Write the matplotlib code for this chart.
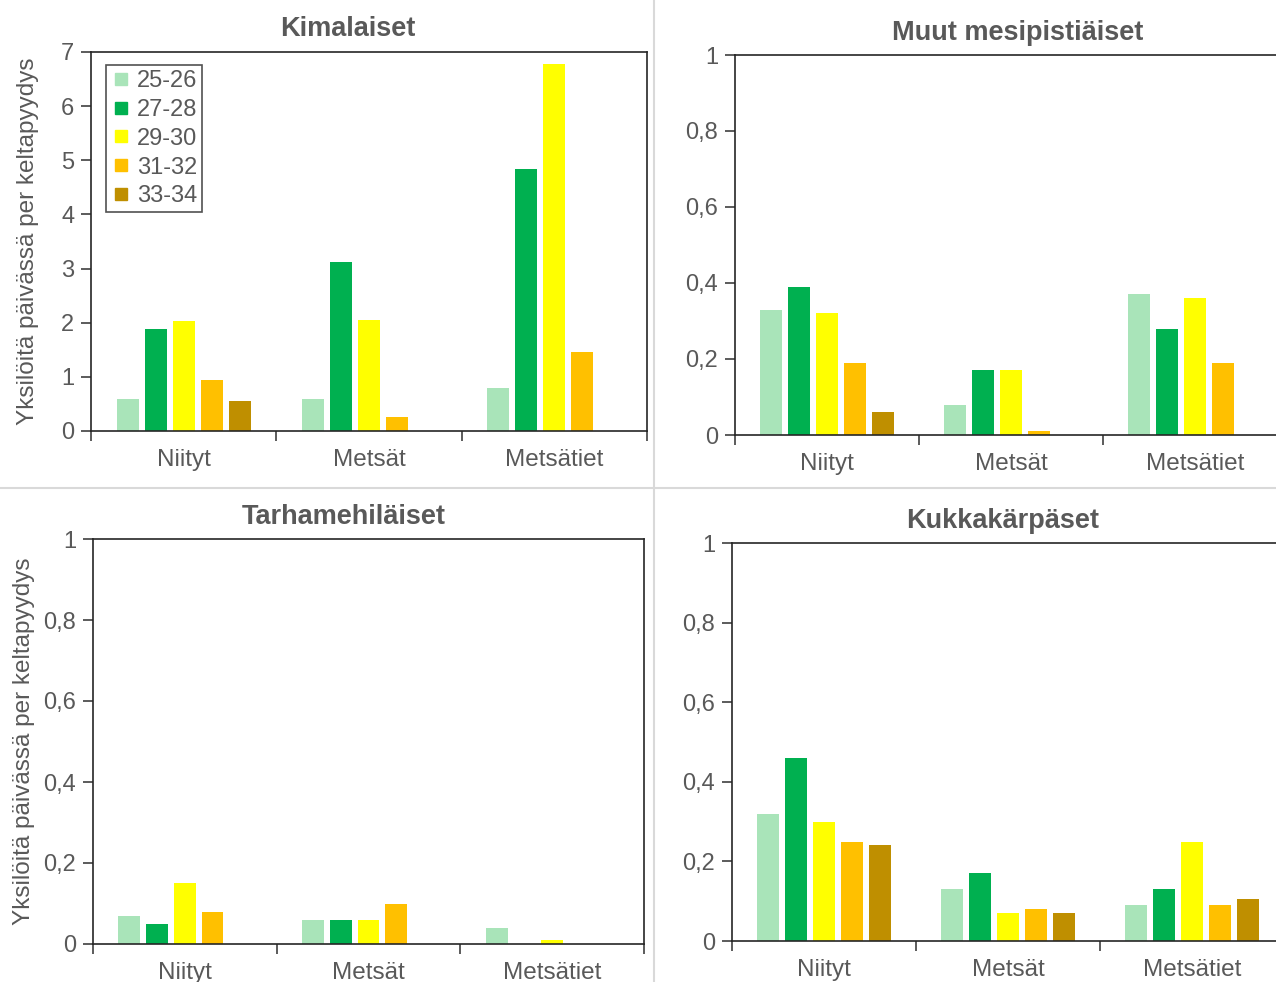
import numpy as np
import matplotlib.pyplot as plt
from matplotlib.lines import Line2D
from matplotlib.ticker import FuncFormatter, FixedLocator

plt.rcParams['font.family'] = ['Liberation Sans', 'DejaVu Sans']

# data
places = ['Niityt', 'Metsät', 'Metsätiet']
weeks = ['25-26', '27-28', '29-30', '31-32', '33-34']
colors = ['#a9e4b9', '#00b050', '#ffff00', '#ffc000', '#bf8f00']

kimalaiset = [[0.60, 0.60, 0.80],
              [1.88, 3.13, 4.83],
              [2.03, 2.05, 6.78],
              [0.95, 0.25, 1.45],
              [0.55, 0.00, 0.00]]
muut = [[0.33, 0.08, 0.37],
        [0.39, 0.17, 0.28],
        [0.32, 0.17, 0.36],
        [0.19, 0.01, 0.19],
        [0.06, 0.00, 0.00]]
tarha = [[0.07, 0.06, 0.04],
         [0.05, 0.06, 0.00],
         [0.15, 0.06, 0.01],
         [0.08, 0.10, 0.00],
         [0.00, 0.00, 0.00]]
kukka = [[0.32, 0.13, 0.09],
         [0.46, 0.17, 0.13],
         [0.30, 0.07, 0.25],
         [0.25, 0.08, 0.09],
         [0.24, 0.07, 0.105]]

W, H = 1276, 982
grey = '#595959'
ylab = 'Yksilöitä päivässä per keltapyydys'


def px_axes(fig, left, right, top, bottom):
    return fig.add_axes([left / W, 1 - bottom / H, (right - left) / W, (bottom - top) / H])


def fmt(v, pos):
    return ('%g' % round(v, 2)).replace('.', ',')


def panel(ax, data, title, title_xy, ymax, step, ylabel_x=None):
    x = np.arange(len(places)) + 0.5
    for i, vals in enumerate(data):
        ax.bar(x + (i - 2) * 0.151, vals, width=0.119, color=colors[i],
               label=weeks[i], zorder=2)
    ax.set_xlim(0, 3)
    ax.set_ylim(0, ymax)
    ax.set_yticks(np.arange(0, ymax + step / 2, step))
    ax.yaxis.set_major_formatter(FuncFormatter(fmt))
    ax.xaxis.set_major_locator(FixedLocator([0, 1, 2, 3]))
    ax.xaxis.set_minor_locator(FixedLocator(x))
    ax.set_xticklabels([])
    ax.set_xticklabels(places, minor=True)
    ax.tick_params(axis='x', which='major', length=7, width=1.2, color='#404040')
    ax.tick_params(axis='x', which='minor', length=0, pad=13,
                   labelsize=17.5, labelcolor=grey)
    ax.tick_params(axis='y', length=7, width=1.2, color='#404040',
                   labelsize=17, labelcolor=grey, pad=5)
    for s in ax.spines.values():
        s.set_color('#262626')
        s.set_linewidth(1.2)
    fig.text(title_xy[0] / W, 1 - title_xy[1] / H, title, fontsize=19.5,
             fontweight='bold', color=grey, ha='center', va='center')
    if ylabel_x is not None:
        ax.set_ylabel(ylab, fontsize=17.5, color=grey)
        ax.yaxis.set_label_coords(ylabel_x, 0.5)


fig = plt.figure(figsize=(W / 100, H / 100), dpi=100)

ax1 = px_axes(fig, 91, 647, 52, 431)
panel(ax1, kimalaiset, 'Kimalaiset', (348, 29), 7, 1, ylabel_x=-0.094)
handles = [Line2D([], [], marker='s', linestyle='none', markersize=8.5,
                  markerfacecolor=c, markeredgecolor=c) for c in colors]
leg = ax1.legend(handles, weeks, loc='upper left', bbox_to_anchor=(0.027, 0.965),
                 fontsize=17, frameon=True, fancybox=False, edgecolor='#262626',
                 handlelength=0.9, handletextpad=0.2,
                 labelspacing=0.29, borderpad=0.2, borderaxespad=0)
leg.get_frame().set_linewidth(1.2)
for t in leg.get_texts():
    t.set_color(grey)

ax2 = px_axes(fig, 735, 1287, 55, 435)
panel(ax2, muut, 'Muut mesipistiäiset', (1018, 33), 1, 0.2)

ax3 = px_axes(fig, 93, 644, 539, 944)
panel(ax3, tarha, 'Tarhamehiläiset', (344, 517), 1, 0.2, ylabel_x=-0.105)

ax4 = px_axes(fig, 732, 1284, 543, 941)
panel(ax4, kukka, 'Kukkakärpäset', (1003, 521), 1, 0.2)

# separators between panels
fig.add_artist(Line2D([654 / W, 654 / W], [0, 1], color='#d9d9d9', lw=1.5))
fig.add_artist(Line2D([0, 1], [1 - 488 / H, 1 - 488 / H], color='#d9d9d9', lw=1.5))

fig.savefig('out.png', dpi=100, facecolor='white')
